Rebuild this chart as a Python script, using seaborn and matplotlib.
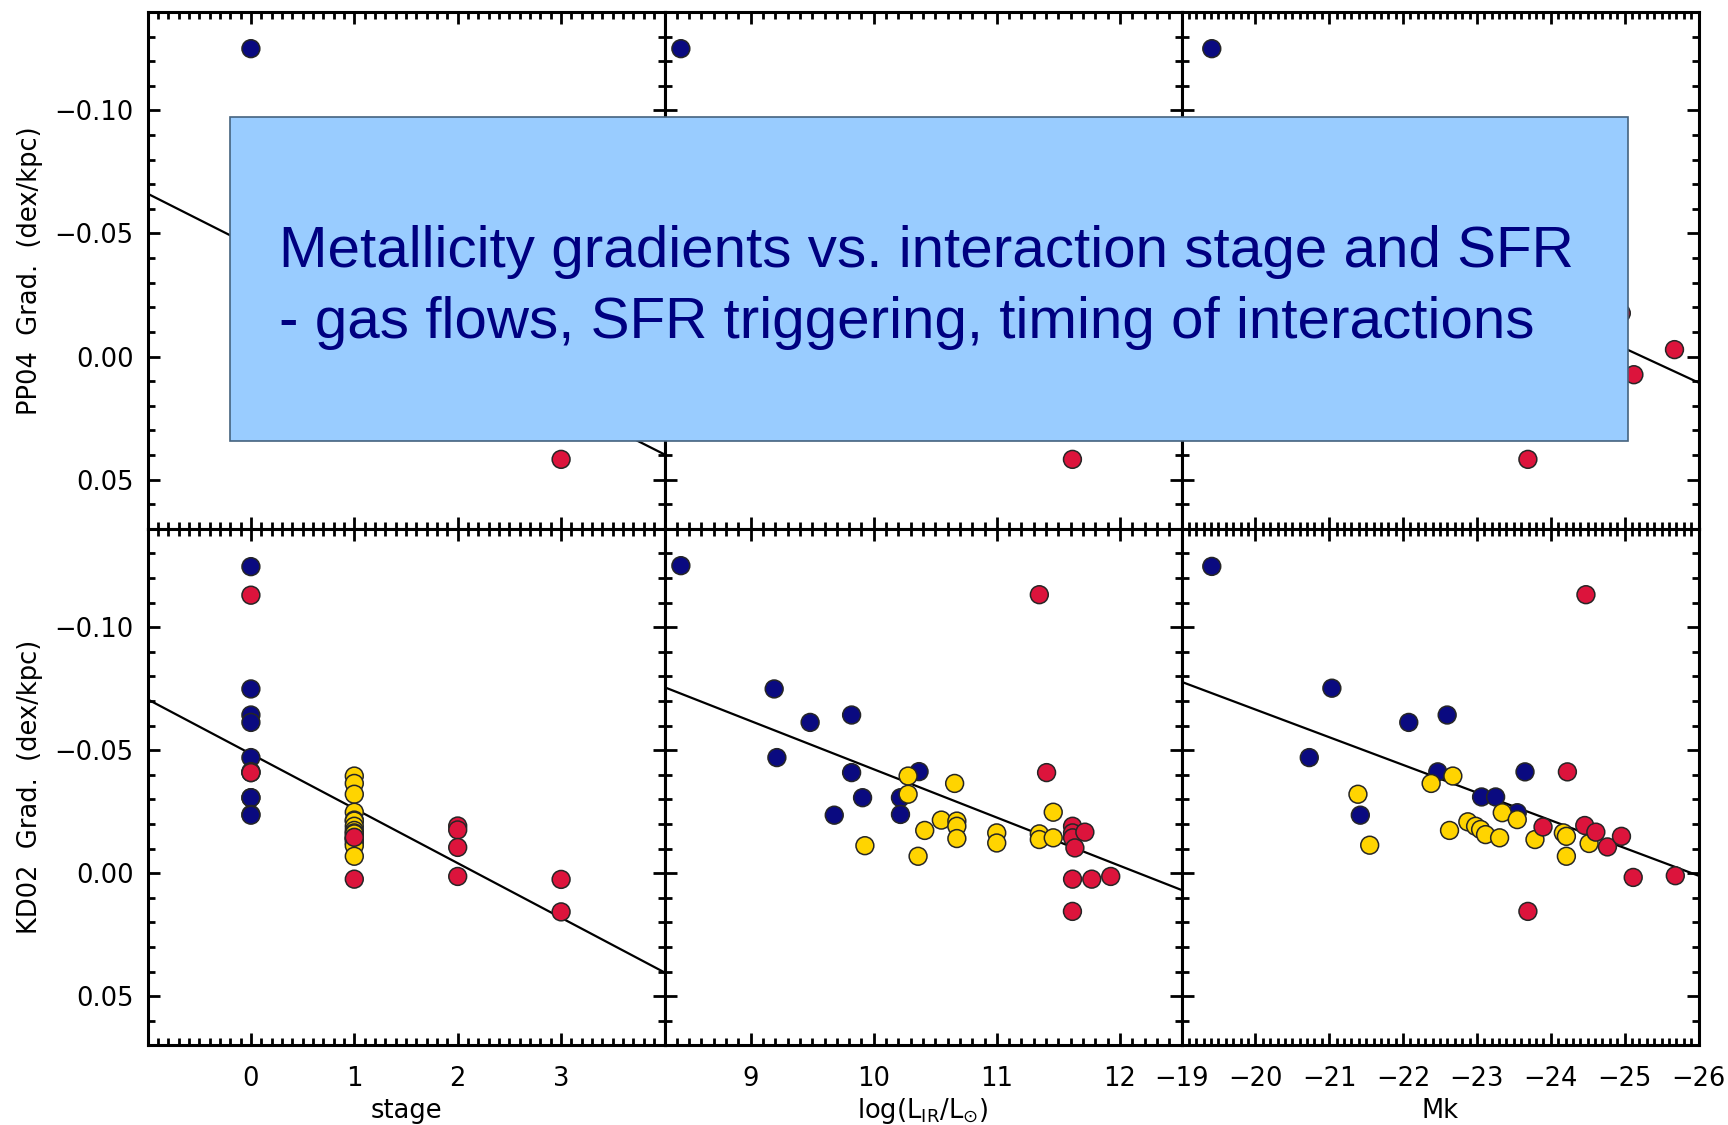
import matplotlib
matplotlib.use("Agg")
import matplotlib.pyplot as plt
import numpy as np
import pandas as pd
import seaborn as sns
from matplotlib.patches import Rectangle
from matplotlib.ticker import MultipleLocator, FuncFormatter

sns.set_style("ticks")
plt.rcParams["font.family"] = ["DejaVu Sans"]
plt.rcParams["text.color"] = "black"
plt.rcParams["axes.labelcolor"] = "black"
plt.rcParams["xtick.color"] = "black"
plt.rcParams["ytick.color"] = "black"

groups = ["isolated", "pair", "merger"]
palette = {"isolated": "#0A0A80", "pair": "#FFD400", "merger": "#DC143C"}

# ---------------- KD02 gradients (bottom row) ----------------
# stage
kd_stage_iso_x = [0, 0, 0, 0, 0, 0, 0, 0, 0, 0, 0]
kd_stage_iso_y = [-0.1246, -0.0749, -0.0643, -0.0613, -0.0470, -0.0413,
                  -0.0409, -0.0307, -0.0307, -0.0239, -0.0236]
kd_stage_pair_x = [1] * 16
kd_stage_pair_y = [-0.0395, -0.0365, -0.0321, -0.0248, -0.0216, -0.0212,
                   -0.0191, -0.0174, -0.0164, -0.0160, -0.0144, -0.0141,
                   -0.0137, -0.0123, -0.0112, -0.0069]
kd_stage_merg_x = [0, 0, 1, 1, 2, 2, 2, 2, 3, 3]
kd_stage_merg_y = [-0.1130, -0.0409, -0.0146, 0.0024, -0.0192, -0.0176,
                   -0.0105, 0.0013, 0.0025, 0.0157]

# log(L_IR / L_sun)
kd_lir_iso_x = [8.433, 9.191, 9.483, 9.820, 9.213, 9.820, 10.368, 9.909,
                10.217, 9.679, 10.217]
kd_lir_iso_y = [-0.1250, -0.0749, -0.0613, -0.0643, -0.0470, -0.0409,
                -0.0413, -0.0307, -0.0307, -0.0236, -0.0239]
kd_lir_pair_x = [10.279, 10.279, 9.928, 10.360, 10.414, 10.549, 10.657,
                 10.675, 10.675, 10.675, 10.999, 10.999, 11.345, 11.345,
                 11.458, 11.458]
kd_lir_pair_y = [-0.0395, -0.0321, -0.0112, -0.0069, -0.0174, -0.0216,
                 -0.0365, -0.0212, -0.0191, -0.0141, -0.0164, -0.0123,
                 -0.0160, -0.0137, -0.0248, -0.0144]
kd_lir_merg_x = [11.345, 11.404, 11.615, 11.615, 11.615, 11.715, 11.634,
                 11.615, 11.771, 11.925, 11.614]
kd_lir_merg_y = [-0.1132, -0.0409, -0.0191, -0.0164, -0.0144, -0.0167,
                 -0.0103, 0.0024, 0.0024, 0.0013, 0.0155]

# Mk
kd_mk_iso_x = [-19.41, -21.036, -22.077, -22.597, -20.730, -22.470, -21.421,
               -23.063, -23.253, -23.651, -23.546]
kd_mk_iso_y = [-0.1247, -0.0752, -0.0613, -0.0643, -0.0470, -0.0412,
               -0.0236, -0.0310, -0.0310, -0.0412, -0.0246]
kd_mk_pair_x = [-21.389, -21.548, -22.380, -22.674, -22.629, -22.877,
                -22.982, -23.050, -23.117, -23.343, -23.546, -23.307,
                -23.786, -24.170, -24.211, -24.211, -24.519]
kd_mk_pair_y = [-0.0321, -0.0114, -0.0365, -0.0395, -0.0174, -0.0209,
                -0.0191, -0.0178, -0.0157, -0.0246, -0.0218, -0.0144,
                -0.0137, -0.0164, -0.0150, -0.0069, -0.0121]
kd_mk_merg_x = [-24.476, -24.225, -23.895, -24.460, -24.610, -24.767,
                -24.957, -25.116, -25.686, -23.690]
kd_mk_merg_y = [-0.1132, -0.0412, -0.0188, -0.0194, -0.0167, -0.0107,
                -0.0150, 0.0017, 0.0010, 0.0155]

# ---------------- PP04 gradients (top row) ----------------
pp_stage_iso_x, pp_stage_iso_y = [0], [-0.1251]
pp_stage_merg_x, pp_stage_merg_y = [3], [0.0418]
pp_lir_iso_x, pp_lir_iso_y = [8.433], [-0.1251]
pp_lir_merg_x, pp_lir_merg_y = [11.614], [0.0418]
pp_mk_iso_x, pp_mk_iso_y = [-19.41], [-0.1251]
pp_mk_merg_x = [-23.69, -25.675, -25.125, -24.955]
pp_mk_merg_y = [0.0418, -0.0028, 0.0074, -0.0176]

# linear fits (end points across each panel)
pp_stage_fit_x, pp_stage_fit_y = [-1, 4], [-0.0662, 0.0398]
pp_mk_fit_x, pp_mk_fit_y = [-19, -26], [-0.0867, 0.0106]
kd_stage_fit_x, kd_stage_fit_y = [-1, 4], [-0.0707, 0.0403]
kd_lir_fit_x, kd_lir_fit_y = [8.3, 12.5], [-0.0756, 0.0068]
kd_mk_fit_x, kd_mk_fit_y = [-19, -26], [-0.0778, 0.0010]


def frame(iso, pair, merg):
    parts = []
    for name, (xs, ys) in zip(groups, (iso, pair, merg)):
        if xs:
            parts.append(pd.DataFrame({"x": xs, "y": ys, "group": name}))
    return pd.concat(parts, ignore_index=True)


panels = {
    (0, 0): (frame((pp_stage_iso_x, pp_stage_iso_y), ([], []),
                   (pp_stage_merg_x, pp_stage_merg_y)),
             (pp_stage_fit_x, pp_stage_fit_y)),
    (0, 1): (frame((pp_lir_iso_x, pp_lir_iso_y), ([], []),
                   (pp_lir_merg_x, pp_lir_merg_y)), None),
    (0, 2): (frame((pp_mk_iso_x, pp_mk_iso_y), ([], []),
                   (pp_mk_merg_x, pp_mk_merg_y)),
             (pp_mk_fit_x, pp_mk_fit_y)),
    (1, 0): (frame((kd_stage_iso_x, kd_stage_iso_y),
                   (kd_stage_pair_x, kd_stage_pair_y),
                   (kd_stage_merg_x, kd_stage_merg_y)),
             (kd_stage_fit_x, kd_stage_fit_y)),
    (1, 1): (frame((kd_lir_iso_x, kd_lir_iso_y),
                   (kd_lir_pair_x, kd_lir_pair_y),
                   (kd_lir_merg_x, kd_lir_merg_y)),
             (kd_lir_fit_x, kd_lir_fit_y)),
    (1, 2): (frame((kd_mk_iso_x, kd_mk_iso_y),
                   (kd_mk_pair_x, kd_mk_pair_y),
                   (kd_mk_merg_x, kd_mk_merg_y)),
             (kd_mk_fit_x, kd_mk_fit_y)),
}

xlims = [(-1, 4), (8.3, 12.5), (-19, -26)]
xticks = [[0, 1, 2, 3], [9, 10, 11, 12], list(range(-19, -27, -1))]
xlabels = ["stage", r"log(L$_{\rm IR}$/L$_{\odot}$)", "Mk"]
ylabels = ["PP04  Grad.  (dex/kpc)", "KD02  Grad.  (dex/kpc)"]


def yfmt(v, pos):
    if abs(v) < 1e-9:
        v = 0.0
    return f"{v:.2f}".replace("-", "\u2212")


fig = plt.figure(figsize=(17.28, 11.25), dpi=100)
gs = fig.add_gridspec(2, 3, left=0.08536, right=0.98293, top=0.98933,
                      bottom=0.07067, wspace=0, hspace=0)

for r in range(2):
    for c in range(3):
        ax = fig.add_subplot(gs[r, c])
        data, fit = panels[(r, c)]
        if fit is not None:
            sns.lineplot(x=fit[0], y=fit[1], ax=ax, color="black", lw=1.6,
                         estimator=None, sort=False, zorder=2)
        sns.scatterplot(data=data, x="x", y="y", hue="group",
                        hue_order=groups, palette=palette, s=165,
                        edgecolor="#262626", linewidth=1.1, legend=False,
                        ax=ax, zorder=3)
        ax.set_xlim(*xlims[c])
        ax.set_ylim(0.07, -0.14)
        ax.set_xticks(xticks[c])
        ax.xaxis.set_minor_locator(MultipleLocator(0.1))
        ax.yaxis.set_major_locator(MultipleLocator(0.05))
        ax.yaxis.set_minor_locator(MultipleLocator(0.01))
        ax.yaxis.set_major_formatter(FuncFormatter(yfmt))
        ax.tick_params(which="both", direction="in", top=True, right=True,
                       width=2.0, labelsize=18.5)
        ax.tick_params(axis="y", which="both", pad=10)
        ax.tick_params(axis="x", which="both", pad=15)
        ax.tick_params(which="major", length=8.3)
        ax.tick_params(which="minor", length=4.7)
        for sp in ax.spines.values():
            sp.set_linewidth(2.2)
            sp.set_color("black")
        ax.set_xlabel("")
        ax.set_ylabel("")
        if r == 0:
            ax.tick_params(labelbottom=False)
        else:
            ax.set_xlabel(xlabels[c], fontsize=18.5)
            ax.xaxis.set_label_coords(0.5, -0.126)
            ax.xaxis.label.set_va("center")
        if c > 0:
            ax.tick_params(labelleft=False)
        else:
            ax.set_ylabel(ylabels[r], fontsize=18.5)
            ax.yaxis.set_label_coords(-0.2277, 0.5)
            ax.yaxis.label.set_va("center")

# Title panel laid over the upper row
fig.add_artist(Rectangle((0.1331, 0.6076), 0.9422 - 0.1331, 0.896 - 0.6076,
                         transform=fig.transFigure, facecolor="#99CCFF",
                         edgecolor="#46637F", lw=1.2, zorder=10))
fig.text(0.1615, 0.7628, "Metallicity gradients vs. interaction stage and SFR",
         fontsize=42, color="#000080", family="Liberation Sans",
         va="baseline", ha="left", zorder=11)
fig.text(0.1615, 0.7000, "- gas flows, SFR triggering, timing of interactions",
         fontsize=42, color="#000080", family="Liberation Sans",
         va="baseline", ha="left", zorder=11)

fig.savefig("out.png", dpi=100)
